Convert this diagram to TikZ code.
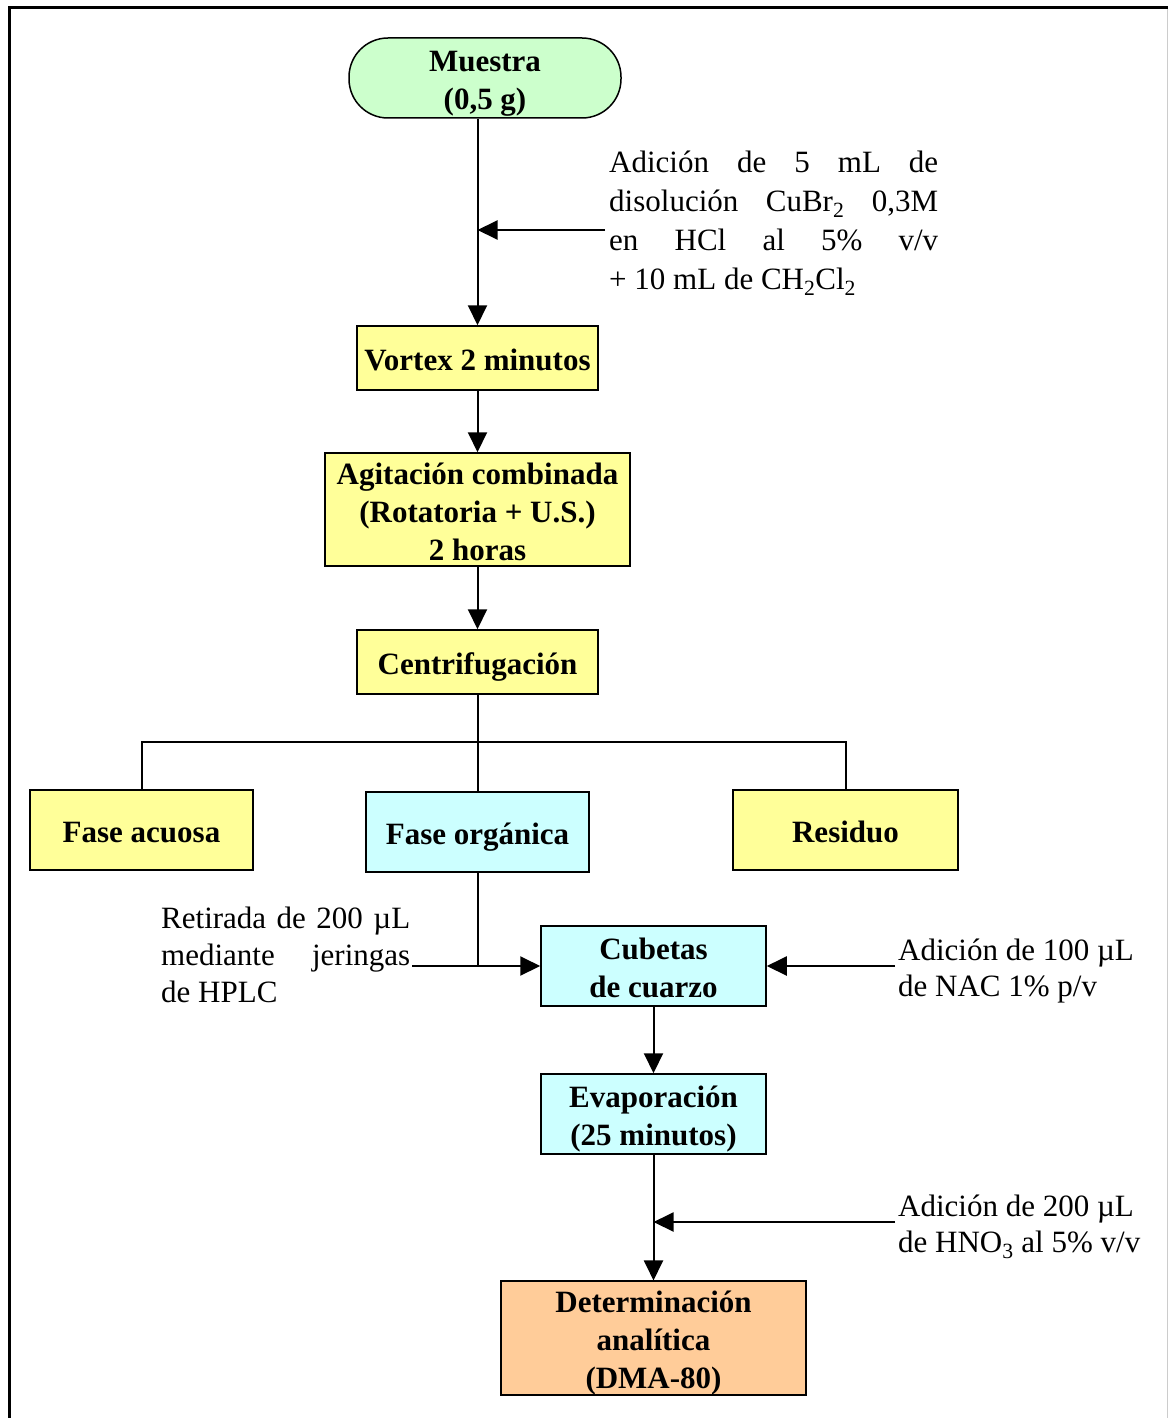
\documentclass[tikz,border=0pt]{standalone}
\usepackage{fontspec}
\setmainfont{Liberation Serif}
\usetikzlibrary{arrows.meta}
\definecolor{verde}{RGB}{204,255,204}
\definecolor{amarillo}{RGB}{255,255,153}
\definecolor{celeste}{RGB}{204,255,255}
\definecolor{naranja}{RGB}{255,204,153}
\newcommand{\arriba}{\rule{0pt}{31pt}}
\newcommand{\abajo}{\rule[-6pt]{0pt}{6pt}}
\tikzset{
	caja/.style 2 args={draw,line width=1.5pt,fill=#1,minimum width=#2,inner sep=0pt,align=center,font=\fontsize{31}{38}\selectfont\bfseries},
	nota/.style={inner sep=0pt,align=left,anchor=north west,font=\fontsize{31}{38}\selectfont},
	flecha/.style={line width=2pt,-{Triangle[length=20pt,width=19pt]}},
	linea/.style={line width=2pt}
}

\begin{document}
\begin{tikzpicture}[x=1pt,y=-1pt]
	\useasboundingbox (0,0) rectangle (1168,1418);
	\draw[line width=3pt] (9.5,1418) -- (9.5,7.5) -- (1168,7.5);
	\draw[black!20,line width=1pt] (1167.5,9) -- (1167.5,1418);

	\node [caja={verde}{272pt},minimum height=80pt,rounded corners=39pt] (muestra) at (485,78) {\arriba Muestra\\(0,5 g)\abajo};
	\node [caja={amarillo}{241pt},minimum height=64pt] (vortex) at (477.5,358) {\arriba Vortex 2 minutos\abajo};
	\node [caja={amarillo}{305pt},minimum height=113pt] (agitacion) at (477.5,509.5) {\arriba Agitación combinada\\(Rotatoria + U.S.)\\2 horas\abajo};
	\node [caja={amarillo}{241pt},minimum height=64pt] (centri) at (477.5,662) {\arriba Centrifugación\abajo};
	\node [caja={amarillo}{223pt},minimum height=80pt] (acuosa) at (141.5,830) {\arriba Fase acuosa\abajo};
	\node [caja={celeste}{223pt},minimum height=80pt] (organica) at (477.5,832) {\arriba Fase orgánica\abajo};
	\node [caja={amarillo}{225pt},minimum height=80pt] (residuo) at (845.5,830) {\arriba Residuo\abajo};
	\node [caja={celeste}{225pt},minimum height=80pt] (cubetas) at (653.5,966) {\arriba Cubetas\\de cuarzo\abajo};
	\node [caja={celeste}{225pt},minimum height=80pt] (evapora) at (653.5,1114) {\arriba Evaporación\\(25 minutos)\abajo};
	\node [caja={naranja}{305pt},minimum height=113pt] (determina) at (653.5,1338) {\arriba Determinación\\analítica\\(DMA-80)\abajo};

	\node [nota,font=\fontsize{31}{39}\selectfont] (cubr) at (609,145) {\strut\makebox[329pt][s]{Adición de 5 mL de}\\\makebox[329pt][s]{disolución CuBr\textsubscript{2} 0,3M}\\\makebox[329pt][s]{en HCl al 5\% v/v}\\+ 10 mL de CH\textsubscript{2}Cl\textsubscript{2}};
	\node [nota,font=\fontsize{31}{37}\selectfont] (retirada) at (161,902) {\strut\makebox[249pt][s]{Retirada de 200 µL}\\\makebox[249pt][s]{mediante jeringas}\\de HPLC};
	\node [nota,font=\fontsize{31}{36}\selectfont] (nac) at (898,934.8) {\strut Adición de 100 µL\\de NAC 1\% p/v};
	\node [nota,font=\fontsize{31}{36}\selectfont] (hno) at (898,1190.8) {\strut Adición de 200 µL\\de HNO\textsubscript{3} al 5\% v/v};

	\coordinate (c1) at (605,230);
	\coordinate (rama) at (477.5,742);
	\coordinate (c2) at (412,966);
	\coordinate (c3) at (895,966);
	\coordinate (c4) at (895,1222);

	\draw [flecha] (vortex |- muestra.south) -- (vortex.north);
	\draw [flecha] (c1) -- (c1 -| vortex);
	\draw [flecha] (vortex) -- (agitacion);
	\draw [flecha] (agitacion) -- (centri);
	\draw [linea] (centri) -- (organica);
	\draw [linea] (acuosa.north) -- (acuosa.north |- rama) -- (residuo.north |- rama) -- (residuo.north);
	\draw [flecha] (organica) |- (cubetas);
	\draw [linea] (c2) -- (c2 -| organica);
	\draw [flecha] (c3) -- (cubetas.east);
	\draw [flecha] (cubetas) -- (evapora);
	\draw [flecha] (evapora) -- (determina);
	\draw [flecha] (c4) -- (c4 -| evapora);
\end{tikzpicture}
\end{document}
